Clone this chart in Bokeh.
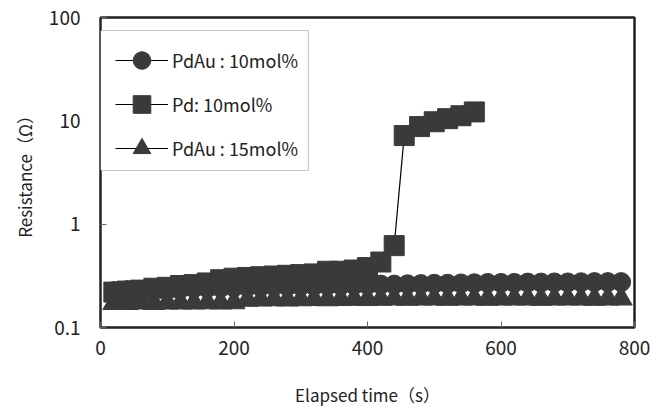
from bokeh.plotting import figure
from bokeh.models import Range1d, FixedTicker, BoxAnnotation, Legend
from bokeh.embed import file_html
from bokeh.resources import INLINE

# ---- data ----
pdau10_time = [20, 40, 60, 80, 100, 120, 140, 160, 180, 200, 220, 240, 260, 280, 300,
               320, 340, 360, 380, 400, 420, 440, 460, 480, 500, 520, 540, 560, 580, 600,
               620, 640, 660, 680, 700, 720, 740, 760, 780]
pdau10_res = [0.225, 0.23, 0.23, 0.232, 0.235, 0.237, 0.24, 0.24, 0.242, 0.245, 0.247,
              0.248, 0.25, 0.25, 0.252, 0.253, 0.255, 0.255, 0.257, 0.258, 0.26, 0.26,
              0.262, 0.263, 0.265, 0.265, 0.267, 0.268, 0.27, 0.27, 0.27, 0.272, 0.272,
              0.273, 0.273, 0.274, 0.275, 0.275, 0.275]

pd10_time = [20, 40, 60, 80, 100, 120, 140, 160, 180, 200, 220, 240, 260, 280, 300,
             320, 340, 360, 380, 400, 420, 440, 455, 478, 500, 520, 540, 560]
pd10_res = [0.22, 0.225, 0.23, 0.24, 0.245, 0.255, 0.26, 0.27, 0.29, 0.3, 0.305, 0.31,
            0.315, 0.32, 0.325, 0.33, 0.35, 0.35, 0.36, 0.38, 0.43, 0.62,
            7.2, 8.8, 9.8, 10.5, 11.2, 12.2]

pdau15_time = pdau10_time
pdau15_res = [0.172, 0.172, 0.174, 0.172, 0.174, 0.174, 0.174, 0.175, 0.174, 0.175, 0.185,
              0.186, 0.187, 0.186, 0.187, 0.188, 0.187, 0.188, 0.189, 0.188, 0.189, 0.19,
              0.189, 0.19, 0.19, 0.189, 0.19, 0.19, 0.189, 0.19, 0.19, 0.19, 0.189,
              0.19, 0.19, 0.19, 0.189, 0.19, 0.19]

x_ticks = [0, 200, 400, 600, 800]
y_ticks = [0.1, 1, 10, 100]
y_tick_labels = ["0.1", "1", "10", "100"]
labels = ["PdAu : 10mol%", "Pd: 10mol%", "PdAu : 15mol%"]

FONT = "Noto Sans CJK JP"
INK = "#3a3a3a"
TXT = "#222222"

p = figure(width=656, height=409, y_axis_type="log",
           x_range=Range1d(0, 800), y_range=Range1d(0.1, 100),
           output_backend="svg", toolbar_location=None,
           min_border_left=100, min_border_right=22,
           min_border_top=17, min_border_bottom=77)

p.grid.visible = False
p.outline_line_color = "#222222"
p.outline_line_width = 2.5
p.background_fill_color = "white"
p.border_fill_color = "white"

for ax in (p.xaxis[0], p.yaxis[0]):
    ax.axis_line_color = None
    ax.major_tick_in = 6
    ax.major_tick_out = 0
    ax.minor_tick_line_color = None
    ax.major_tick_line_color = "#666666"
    ax.major_label_text_font = FONT
    ax.major_label_text_font_size = "19px"
    ax.major_label_text_color = TXT
    ax.axis_label_text_font = FONT
    ax.axis_label_text_font_size = "17px"
    ax.axis_label_text_font_style = "normal"
    ax.axis_label_text_color = TXT

p.xaxis.ticker = FixedTicker(ticks=x_ticks)
p.yaxis.ticker = FixedTicker(ticks=y_ticks, minor_ticks=[])
p.yaxis.major_label_overrides = {t: l for t, l in zip(y_ticks, y_tick_labels)}
p.xaxis.major_label_standoff = 13
p.yaxis.major_label_standoff = 20
p.xaxis.axis_label = "Elapsed time（s）"
p.yaxis.axis_label = "Resistance（Ω）"
p.xaxis.axis_label_standoff = 24
p.yaxis.axis_label_standoff = 9

# legend box (screen units, relative to frame)
box = BoxAnnotation(left=0, right=208, bottom=157, top=297,
                    left_units="screen", right_units="screen",
                    bottom_units="screen", top_units="screen",
                    fill_color="white", fill_alpha=1.0,
                    line_color="#444444", line_width=1.2)
p.add_layout(box)

# PdAu 10 mol% : circles
l1 = p.line(pdau10_time, pdau10_res, line_color="black", line_width=1.2)
m1 = p.scatter(pdau10_time, pdau10_res, marker="circle", size=19,
               fill_color=INK, line_color=INK)
# PdAu 15 mol% : triangles
l3 = p.line(pdau15_time, pdau15_res, line_color="black", line_width=1.2)
m3 = p.scatter(pdau15_time, pdau15_res, marker="triangle", size=22,
               fill_color=INK, line_color=INK)
# Pd 10 mol% : squares
l2 = p.line(pd10_time, pd10_res, line_color="black", line_width=1.2)
m2 = p.scatter(pd10_time, pd10_res, marker="square", size=20,
               fill_color=INK, line_color=INK)

legend = Legend(items=[(labels[0], [l1, m1]), (labels[1], [l2, m2]), (labels[2], [l3, m3])],
                location=(15, 157), orientation="vertical",
                glyph_width=53, glyph_height=44, spacing=0, padding=4,
                label_standoff=4, border_line_color=None,
                background_fill_alpha=0.0,
                label_text_font=FONT, label_text_font_size="18px",
                label_text_color=TXT)
p.add_layout(legend, "center")

open("out.html", "w").write(file_html(p, INLINE))
